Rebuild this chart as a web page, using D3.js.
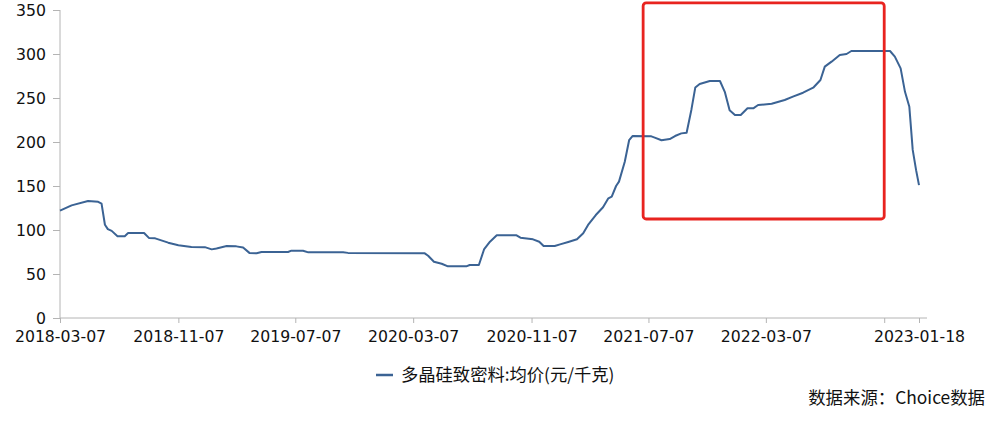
<!DOCTYPE html>
<html><head><meta charset="utf-8">
<script src="https://cdn.jsdelivr.net/npm/d3@7"></script>
<style>html,body{margin:0;padding:0;background:#fff;} svg{display:block}</style>
</head><body><svg id="c" width="988" height="421"></svg>
<script>
const dates = ["2018-03-07","2018-03-31","2018-05-04","2018-05-25","2018-06-01","2018-06-08","2018-06-14","2018-06-22","2018-07-04","2018-07-19","2018-07-26","2018-08-28","2018-09-07","2018-09-20","2018-10-17","2018-11-07","2018-12-04","2019-01-01","2019-01-04","2019-01-15","2019-01-25","2019-02-15","2019-03-07","2019-03-21","2019-04-03","2019-04-18","2019-04-28","2019-06-22","2019-06-29","2019-07-23","2019-08-03","2019-10-14","2019-10-24","2020-03-31","2020-04-07","2020-04-19","2020-05-05","2020-05-18","2020-06-25","2020-07-02","2020-07-21","2020-08-01","2020-08-13","2020-08-27","2020-10-07","2020-10-15","2020-11-10","2020-11-23","2020-12-02","2020-12-25","2021-01-05","2021-01-22","2021-02-09","2021-02-22","2021-03-04","2021-03-20","2021-04-04","2021-04-15","2021-04-22","2021-05-01","2021-05-07","2021-05-19","2021-05-28","2021-06-04","2021-07-13","2021-07-20","2021-08-03","2021-08-20","2021-08-31","2021-09-13","2021-09-24","2021-10-04","2021-10-12","2021-10-21","2021-11-11","2021-12-02","2021-12-12","2021-12-22","2022-01-02","2022-01-14","2022-01-28","2022-02-09","2022-02-19","2022-03-19","2022-04-15","2022-05-02","2022-05-23","2022-06-13","2022-06-28","2022-07-07","2022-07-21","2022-08-07","2022-08-21","2022-08-31","2022-11-19","2022-11-29","2022-12-11","2022-12-20","2022-12-29","2023-01-05","2023-01-12","2023-01-18"];
const prices = [122,128,133,132,130,106,101,99,93,93,96.6,96.6,91,90.5,85.6,82.6,80.7,80.5,80,78,79,81.8,81.4,80,74,73.5,75,75,76.5,76.5,74.6,74.6,74,73.5,70.8,64,61.7,58.7,58.7,60.2,60.2,78.4,86.7,94,94,91.3,89.4,86.7,81.8,81.8,83.7,86.4,89.4,96.2,105.7,117,125.8,136,137.9,150,155,177.6,202,206.8,206.4,205,202,203.4,206.8,209.8,210.6,237,262,266,269.3,269.3,257,236,230.7,230.7,238.3,238.3,242,243.5,247.7,251.5,256,261.7,270.5,285.6,291.3,298.9,300,303.4,303.4,297,283.7,257,240,191,168,151];
const yTicks = [0,50,100,150,200,250,300,350];
const xTickDates = ["2018-03-07","2018-11-07","2019-07-07","2020-03-07","2020-11-07","2021-07-07","2022-03-07","2022-11-07","2023-01-18"];
const xTickLabels = ["2018-03-07","2018-11-07","2019-07-07","2020-03-07","2020-11-07","2021-07-07","2022-03-07","","2023-01-18"];
const seriesName = "多晶硅致密料:均价(元/千克)";
const sourceText = "数据来源：Choice数据";
const highlightDates = ["2021-06-26","2022-11-07"];
const highlightValues = [112.5,358];

(function(){
const parse = d3.timeParse("%Y-%m-%d");
const svg = d3.select("#c");
svg.append("rect").attr("width",988).attr("height",421).attr("fill","#fff");

const pL = 60, pR = 919, axisEnd = 927, pT = 10, pB = 318;
const x = d3.scaleTime().domain([parse(dates[0]), parse(dates[dates.length-1])]).range([pL, pR]);
const y = d3.scaleLinear().domain([0,350]).range([pB, pT]);

const axisColor = "#b4b4b4";
const tickFont = "'DejaVu Sans', sans-serif";

const ya = svg.append("g").attr("transform",`translate(${pL},0)`)
  .call(d3.axisLeft(y).tickValues(yTicks).tickSize(7).tickPadding(7).tickFormat(d3.format("d")));
ya.select(".domain").attr("stroke",axisColor).attr("d",`M0,${pB}V${pT}`);
ya.selectAll(".tick line").attr("stroke",axisColor);
ya.selectAll(".tick text").attr("fill","#111").style("font-family",tickFont).style("font-size","15.7px");

const xa = svg.append("g").attr("transform",`translate(0,${pB})`)
  .call(d3.axisBottom(x).tickValues(xTickDates.map(parse)).tickSize(5).tickPadding(8)
    .tickFormat((d,i)=>xTickLabels[i]));
xa.select(".domain").attr("stroke",axisColor).attr("d",`M${pL},0H${axisEnd}`);
xa.selectAll(".tick line").attr("stroke",axisColor);
xa.selectAll(".tick text").attr("fill","#111").style("font-family",tickFont).style("font-size","15.7px");

const data = dates.map((d,i)=>({d:parse(d), v:prices[i]}));
svg.append("path").datum(data)
  .attr("fill","none").attr("stroke","#3b6394").attr("stroke-width",2)
  .attr("stroke-linejoin","round")
  .attr("d", d3.line().x(p=>x(p.d)).y(p=>y(p.v)));

const hx0 = x(parse(highlightDates[0])), hx1 = x(parse(highlightDates[1]));
const hy0 = y(highlightValues[1]), hy1 = y(highlightValues[0]);
svg.append("rect").attr("x",hx0).attr("y",hy0).attr("width",hx1-hx0).attr("height",hy1-hy0)
  .attr("rx",3).attr("fill","none").attr("stroke","#e8231f").attr("stroke-width",2.8);

const lg = svg.append("g");
lg.append("line").attr("x1",376).attr("x2",393).attr("y1",375).attr("y2",375)
  .attr("stroke","#3b6394").attr("stroke-width",2.5);
lg.append("text").attr("x",401).attr("y",375).attr("dy","0.35em")
  .style("font-family","'Noto Sans CJK SC', sans-serif").style("font-size","17.3px").attr("fill","#111")
  .text(seriesName);

svg.append("text").attr("x",985).attr("y",398).attr("dy","0.35em").attr("text-anchor","end")
  .style("font-family","'Noto Sans CJK SC', sans-serif").style("font-size","17.4px").attr("fill","#111")
  .text(sourceText);
})();
</script>
</body></html>
